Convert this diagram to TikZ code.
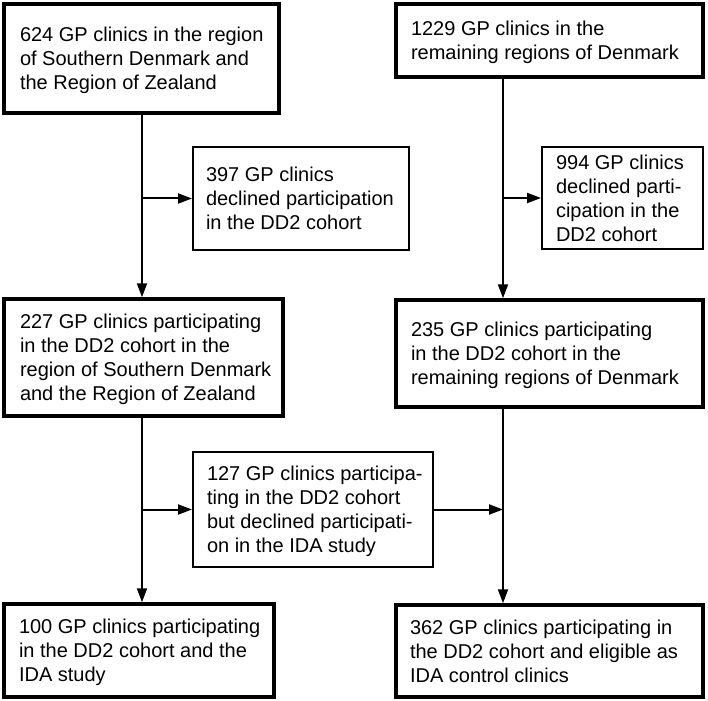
\documentclass[tikz,border=0pt]{standalone}
\usepackage{fontspec}
\setmainfont{Liberation Sans}
\usetikzlibrary{arrows.meta}
\newcommand\boxlines[2]{\makebox[#1][l]{\begin{tabular}{@{}l@{}}\rule{0pt}{22pt}#2\end{tabular}}}
\begin{document}
\begin{tikzpicture}[x=1pt,y=-1pt,
  box/.style={draw, rectangle, inner ysep=0pt, anchor=center,
    font=\fontsize{20}{24}\selectfont},
  thickbox/.style={box, line width=3.5pt},
  thinbox/.style={box, line width=2pt},
  conn/.style={line width=2pt, -{Triangle[length=14pt,width=10pt]}},
  ]
\fill[white] (0,0) rectangle (708,700);
\useasboundingbox (0,0) rectangle (708,700);

\node[thickbox, minimum width=275pt, minimum height=109pt, inner xsep=16pt] (b1) at (141.5,58.5)
  {\boxlines{243pt}{624 GP clinics in the region\\of Southern Denmark and\\the Region of Zealand}};
\node[thickbox, minimum width=307pt, minimum height=73pt, inner xsep=15pt] (b2) at (549.5,40.5)
  {\boxlines{277pt}{1229 GP clinics in the\\remaining regions of Denmark}};
\node[thinbox, minimum width=216pt, minimum height=103pt, inner xsep=13pt] (b3) at (301,198.5)
  {\boxlines{190pt}{397 GP clinics\\declined participation\\in the DD2 cohort}};
\node[thinbox, minimum width=161pt, minimum height=102pt, inner xsep=14pt] (b4) at (622.5,198)
  {\boxlines{133pt}{994 GP clinics\\declined parti-\\cipation in the\\DD2 cohort}};
\node[thickbox, minimum width=279pt, minimum height=117pt, inner xsep=16pt] (b5) at (143.5,357.5)
  {\boxlines{247pt}{227 GP clinics participating\\in the DD2 cohort in the\\region of Southern Denmark\\and the Region of Zealand}};
\node[thickbox, minimum width=307pt, minimum height=107pt, inner xsep=15pt] (b6) at (549.5,353.5)
  {\boxlines{277pt}{235 GP clinics participating\\in the DD2 cohort in the\\remaining regions of Denmark}};
\node[thinbox, minimum width=240pt, minimum height=115pt, inner xsep=14pt] (b7) at (313,509.5)
  {\boxlines{212pt}{127 GP clinics participa-\\ting in the DD2 cohort\\but declined participati-\\on in the IDA study}};
\node[thickbox, minimum width=270pt, minimum height=93pt, inner xsep=15pt] (b8) at (139,650.5)
  {\boxlines{240pt}{100 GP clinics participating\\in the DD2 cohort and the\\IDA study}};
\node[thickbox, minimum width=307pt, minimum height=92pt, inner xsep=14pt] (b9) at (549.5,651)
  {\boxlines{279pt}{362 GP clinics participating in\\the DD2 cohort and eligible as\\IDA control clinics}};

\coordinate (ls) at (142,0);
\coordinate (rs) at (503,0);

\draw[conn] (ls |- b1.south) -- (ls |- b5.north);
\draw[conn] (ls |- b3.west) -- (b3.west);
\draw[conn] (rs |- b2.south) -- (rs |- b6.north);
\draw[conn] (rs |- b4.west) -- (b4.west);
\draw[conn] (ls |- b5.south) -- (ls |- b8.north);
\draw[conn] (ls |- b7.west) -- (b7.west);
\draw[conn] (rs |- b6.south) -- (rs |- b9.north);
\draw[conn] (b7.east) -- (rs |- b7.east);
\end{tikzpicture}
\end{document}
